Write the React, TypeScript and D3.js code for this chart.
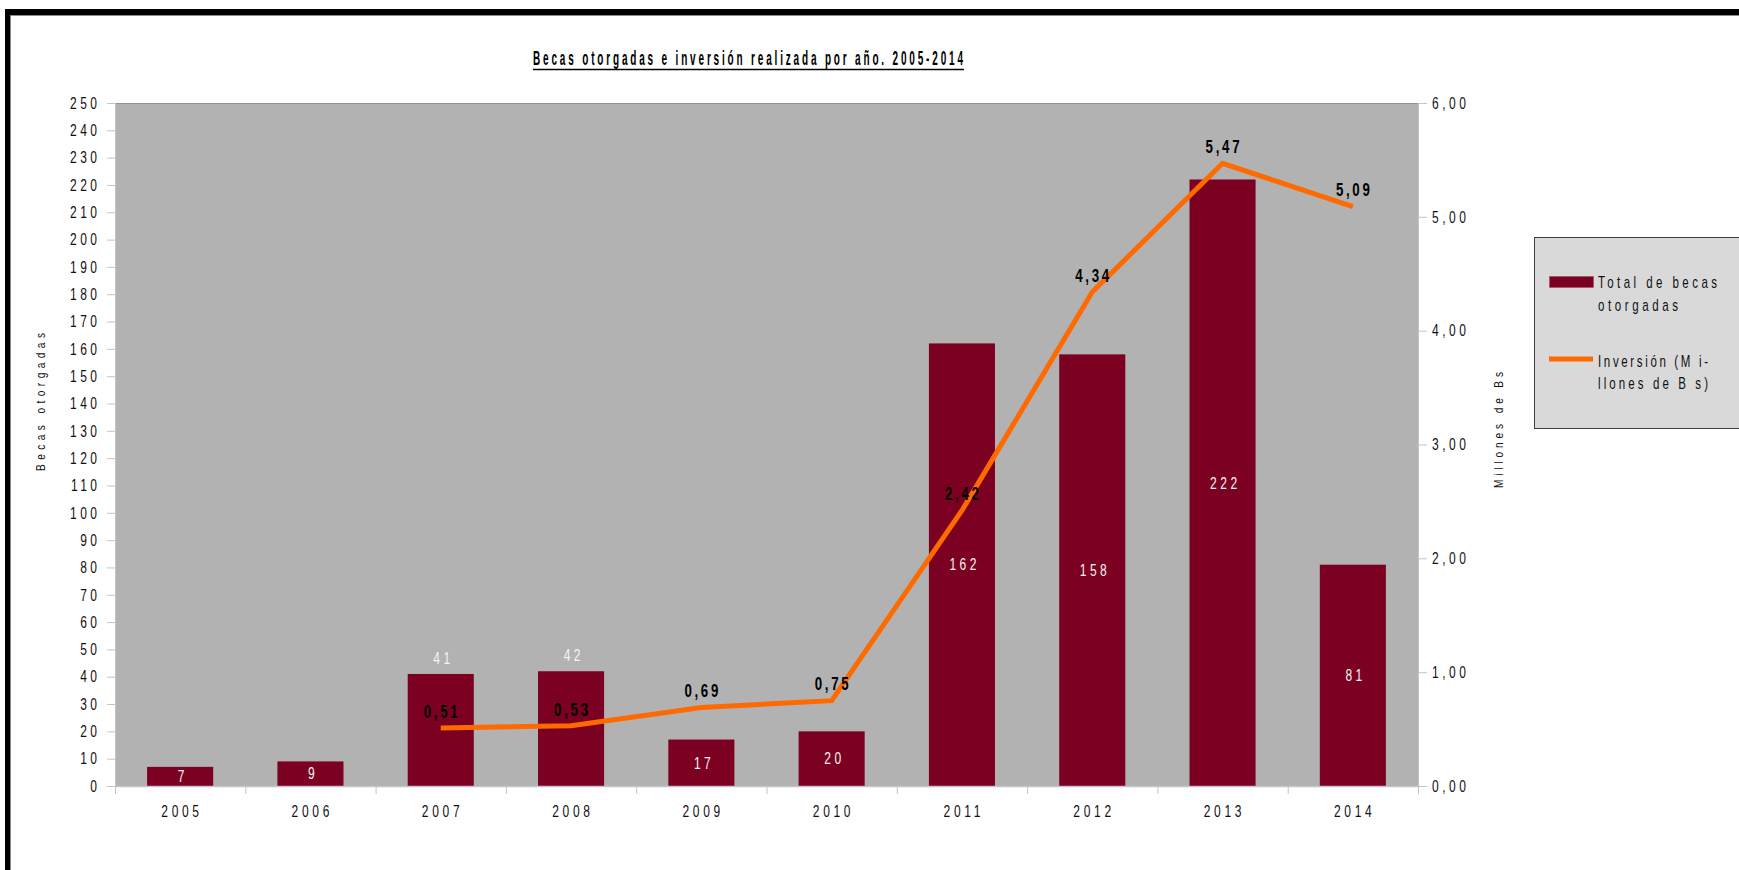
import React from "react";
import * as d3 from "d3";

const years = ["2005", "2006", "2007", "2008", "2009", "2010", "2011", "2012", "2013", "2014"];
const becas = [7, 9, 41, 42, 17, 20, 162, 158, 222, 81];
const inversion: (number | null)[] = [null, null, 0.51, 0.53, 0.69, 0.75, 2.42, 4.34, 5.47, 5.09];
const leftTicks = d3.range(0, 251, 10);
const rightTicks = [0, 1, 2, 3, 4, 5, 6];
const labelsAboveBar = ["2007", "2008"];
const title = "Becas otorgadas e inversión realizada por año. 2005-2014";
const leftTitle = "Becas otorgadas";
const rightTitle = "Millones de Bs";
const legendBars = ["Total de becas", "otorgadas"];
const legendLine = ["Inversión (M i-", "llones de B s)"];

const W = 1739;
const H = 870;
const FONT = "'Liberation Sans', Arial, sans-serif";
const BAR = "#7b0022";
const ORANGE = "#ff6a00";
const AXIS = "#c4c4c4";

const plot = { left: 115, right: 1418, top: 103, bottom: 786 };

const fmt = (v: number) => d3.format(".2f")(v).replace(".", ",");

type TProps = {
  x: number;
  y: number;
  size: number;
  sx?: number;
  ls?: number;
  anchor?: "start" | "middle" | "end";
  weight?: string;
  fill?: string;
  rotate?: number;
  width?: number;
  dy?: string;
  children: React.ReactNode;
};

// condensed text: glyphs squeezed horizontally, spacing given in screen px
function T({ x, y, size, sx = 0.75, ls = 3, anchor = "start", weight = "normal", fill = "#111", rotate = 0, width, dy, children }: TProps) {
  const shift = anchor === "end" ? ls : anchor === "middle" ? ls / 2 : 0;
  const extra: any = {};
  if (width) {
    extra.textLength = width / sx;
    extra.lengthAdjust = "spacing";
  } else {
    extra.letterSpacing = ls / sx;
  }
  return (
    <g transform={`translate(${x},${y}) rotate(${rotate}) scale(${sx},1)`}>
      <text
        x={width ? 0 : shift / sx}
        y={0}
        dy={dy}
        textAnchor={anchor}
        fontSize={size}
        fontWeight={weight}
        fill={fill}
        {...extra}
      >
        {children}
      </text>
    </g>
  );
}

export default function App() {
  const x = d3.scaleBand<string>().domain(years).range([plot.left, plot.right]).padding(0);
  const y = d3.scaleLinear().domain([0, 250]).range([plot.bottom, plot.top]);
  const y2 = d3.scaleLinear().domain([0, 6]).range([plot.bottom, plot.top]);
  const bw = x.bandwidth() * 0.507;
  const cx = (yr: string) => (x(yr) as number) + x.bandwidth() / 2;

  const linePts = years
    .map((yr, i) => ({ yr, v: inversion[i] }))
    .filter((d) => d.v !== null) as { yr: string; v: number }[];
  const lineGen = d3
    .line<{ yr: string; v: number }>()
    .x((d) => cx(d.yr))
    .y((d) => y2(d.v));

  return (
    <svg
      width={W}
      height={H}
      style={{ position: "absolute", left: 0, top: 0, display: "block" }}
      fontFamily={FONT}
    >
      <rect x={0} y={0} width={W} height={H} fill="#ffffff" />
      {/* outer frame */}
      <rect x={5} y={9} width={W} height={6} fill="#000" />
      <rect x={5} y={9} width={5} height={H} fill="#000" />
      <line x1={10} y1={15.5} x2={W} y2={15.5} stroke="#8a8a8a" strokeWidth={1} />
      <line x1={10.5} y1={15} x2={10.5} y2={H} stroke="#8a8a8a" strokeWidth={1} />

      {/* title */}
      <T x={533} y={65} size={20} sx={0.5} weight="bold" fill="#000" width={430}>
        {title}
      </T>
      <line x1={533} y1={69.5} x2={964} y2={69.5} stroke="#000" strokeWidth={1.5} />

      {/* plot area */}
      <rect
        x={plot.left}
        y={plot.top}
        width={plot.right - plot.left}
        height={plot.bottom - plot.top}
        fill="#b2b2b2"
      />
      <line x1={plot.left} y1={plot.top + 0.5} x2={plot.right} y2={plot.top + 0.5} stroke="#929292" />

      {/* bars */}
      {years.map((yr, i) => (
        <rect
          key={yr}
          x={cx(yr) - bw / 2}
          y={y(becas[i])}
          width={bw}
          height={y(0) - y(becas[i])}
          fill={BAR}
        />
      ))}

      {/* left axis */}
      <line x1={plot.left + 0.5} y1={plot.top} x2={plot.left + 0.5} y2={plot.bottom + 8} stroke={AXIS} />
      {leftTicks.map((t) => (
        <g key={"l" + t}>
          <line x1={plot.left - 8} x2={plot.left} y1={y(t) + 0.5} y2={y(t) + 0.5} stroke={AXIS} />
          <T x={97} y={y(t)} dy="0.36em" anchor="end" size={16} sx={0.75} ls={3.5}>
            {t}
          </T>
        </g>
      ))}

      {/* right axis */}
      <line x1={plot.right + 0.5} y1={plot.top} x2={plot.right + 0.5} y2={plot.bottom + 8} stroke={AXIS} />
      {rightTicks.map((t) => (
        <g key={"r" + t}>
          <line x1={plot.right} x2={plot.right + 9} y1={y2(t) + 0.5} y2={y2(t) + 0.5} stroke={AXIS} />
          <T x={plot.right + 14} y={y2(t)} dy="0.36em" size={16} sx={0.75} ls={3.5}>
            {fmt(t)}
          </T>
        </g>
      ))}

      {/* x axis */}
      <line x1={plot.left} y1={plot.bottom + 0.5} x2={plot.right} y2={plot.bottom + 0.5} stroke={AXIS} strokeWidth={1.5} />
      {years.map((yr) => (
        <g key={"x" + yr}>
          <line
            x1={(x(yr) as number) + 0.5}
            x2={(x(yr) as number) + 0.5}
            y1={plot.bottom}
            y2={plot.bottom + 8}
            stroke={AXIS}
          />
          <T x={cx(yr)} y={817} anchor="middle" size={16} sx={0.75} ls={3.7}>
            {yr}
          </T>
        </g>
      ))}

      {/* axis titles */}
      <T x={40 + 4.5} y={402 + 69} rotate={-90} size={13} sx={0.78} width={138}>
        {leftTitle}
      </T>
      <T x={1498 + 4.5} y={430 + 58} rotate={-90} size={13} sx={0.78} width={116}>
        {rightTitle}
      </T>

      {/* bar labels */}
      {years.map((yr, i) => {
        const above = labelsAboveBar.includes(yr);
        const ty = above ? y(becas[i]) - 16 : (y(becas[i]) + y(0)) / 2;
        return (
          <T key={"bl" + yr} x={cx(yr) + 1} y={ty} dy="0.36em" anchor="middle" size={16} sx={0.75} ls={3.5} fill="#f4f4f4">
            {becas[i]}
          </T>
        );
      })}

      {/* line */}
      <path d={lineGen(linePts) || ""} fill="none" stroke={ORANGE} strokeWidth={5} strokeLinejoin="miter" />

      {/* line labels */}
      {linePts.map((d) => (
        <T
          key={"ll" + d.yr}
          x={cx(d.yr)}
          y={y2(d.v) - 17}
          dy="0.36em"
          anchor="middle"
          size={19}
          sx={0.7}
          ls={2.7}
          weight="bold"
          fill="#000"
        >
          {fmt(d.v)}
        </T>
      ))}

      {/* legend */}
      <rect x={1534.5} y={237.5} width={220} height={191} fill="#d9d9d9" stroke="#404040" strokeWidth={1} />
      <rect x={1549.5} y={276.5} width={44} height={11} fill={BAR} stroke="#a05060" strokeWidth={0.6} />
      <line x1={1549} x2={1593} y1={359} y2={359} stroke={ORANGE} strokeWidth={5} />
      <T x={1598} y={288} size={16} sx={0.72} width={119}>{legendBars[0]}</T>
      <T x={1598} y={310.5} size={16} sx={0.72} width={80}>{legendBars[1]}</T>
      <T x={1598} y={366.5} size={16} sx={0.72} width={110}>{legendLine[0]}</T>
      <T x={1598} y={389} size={16} sx={0.72} width={110}>{legendLine[1]}</T>
    </svg>
  );
}
